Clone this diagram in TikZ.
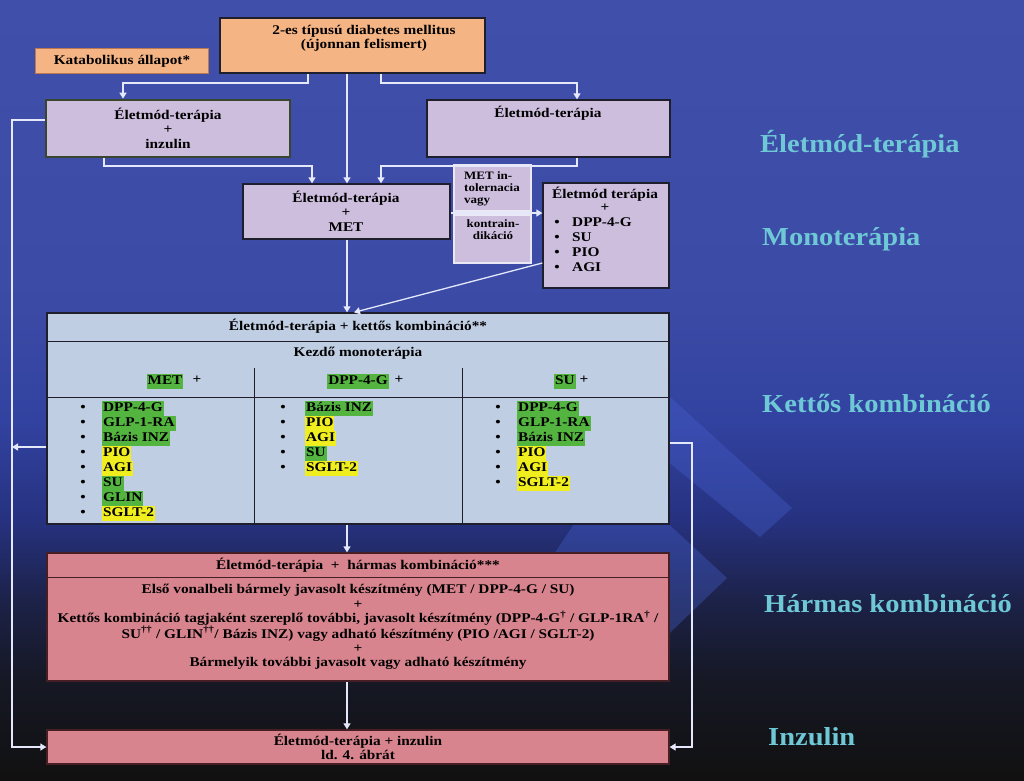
\documentclass[tikz,border=0pt]{standalone}
\usepackage{fontspec}
\setmainfont{Liberation Serif}[FakeStretch=1.15]
\newfontfamily\labelfont{Liberation Serif}[FakeStretch=1.1]
\usetikzlibrary{arrows.meta,calc}

\definecolor{bg0}{RGB}{17,17,17}
\definecolor{bg1}{RGB}{22,24,36}
\definecolor{bg2}{RGB}{28,34,72}
\definecolor{bg3}{RGB}{38,50,128}
\definecolor{bg4}{RGB}{50,66,160}
\definecolor{bg5}{RGB}{60,76,166}
\definecolor{bg6}{RGB}{64,80,170}
\definecolor{chevcol}{RGB}{72,98,210}
\definecolor{orangebox}{RGB}{245,180,132}
\definecolor{orangeedge}{RGB}{190,120,80}
\definecolor{lavbox}{RGB}{205,190,222}
\definecolor{tblbox}{RGB}{192,206,228}
\definecolor{pinkbox}{RGB}{216,132,142}
\definecolor{pinkedge}{RGB}{70,30,36}
\definecolor{hlgreen}{RGB}{84,180,64}
\definecolor{hlyellow}{RGB}{240,238,30}
\definecolor{labelcyan}{RGB}{110,200,214}
\definecolor{edgecol}{RGB}{30,30,45}
\definecolor{olivedark}{RGB}{55,70,45}
\definecolor{conncol}{RGB}{228,232,250}
\definecolor{intedge}{RGB}{235,232,245}

% positions in bp from the bottom, central 25..75bp mapped onto the picture
\pgfdeclareverticalshading{bgshade}{100bp}{color(0bp)=(bg0); color(25bp)=(bg0); color(31.4bp)=(bg1); color(36.5bp)=(bg2); color(41.7bp)=(bg3); color(48.1bp)=(bg4); color(57bp)=(bg5); color(75bp)=(bg6); color(100bp)=(bg6)}

\newcommand{\mkbox}[6]{\node[#6, minimum width={(#4-(#2))*1pt}, minimum height={(#5-(#3))*1pt}] (#1) at ({((#2)+(#4))/2},{((#3)+(#5))/2}) {};}
\newcommand{\bitem}[6]{\node[bul] (#1b) at (#2,#4) {•};\node[hl, fill=#5] (#1) at (#3,#4) {#6};}

\begin{document}
\begin{tikzpicture}[x=1pt,y=-1pt,
  box/.style={draw=edgecol, line width=1.3pt, inner sep=0pt},
  txt/.style={font=\fontsize{13.3}{14.4}\selectfont\bfseries, align=center, inner sep=0pt, text=black},
  small/.style={font=\fontsize{11.3}{12}\selectfont\bfseries, inner sep=0pt, text=black},
  hl/.style={font=\fontsize{13.3}{15}\selectfont\bfseries, inner xsep=1pt, inner ysep=0pt, text height=10.6pt, text depth=4.4pt, anchor=west, text=black},
  bul/.style={font=\fontsize{13.3}{15}\selectfont\bfseries, inner sep=0pt, text=black},
  conn/.style={draw=conncol, line width=1.3pt, -{Triangle[width=7pt,length=6pt]}},
  tline/.style={draw=edgecol, line width=1pt},
  sidelabel/.style={font=\labelfont\fontsize{25.9}{28}\selectfont\bfseries, text=labelcyan, inner sep=0pt, anchor=base west}
]
\useasboundingbox (0,0) rectangle (1024,780);
\shade[shading=bgshade] (0,0) rectangle (1024,780);
\fill[chevcol, opacity=0.35] (600,333) -- (792,508) -- (760,537) -- (600,406) -- cycle;
\fill[chevcol, opacity=0.35] (610,470) -- (727,578) -- (650,652) -- (540,652) -- (540,575) -- cycle;

% boxes
\mkbox{diab}{220}{18}{485}{73}{box, fill=orangebox}
\mkbox{kat}{35}{48}{208}{73}{box, fill=orangebox, draw=orangeedge, line width=1pt}
\mkbox{ins}{46}{100}{290}{157}{box, fill=lavbox, draw=olivedark, line width=2.6pt}
\mkbox{elet}{427}{100}{670}{157}{box, fill=lavbox}
\mkbox{met}{243}{184}{450}{239}{box, fill=lavbox}
\mkbox{intA}{454}{165}{531}{211}{fill=lavbox, draw=intedge, line width=1.2pt, inner sep=0pt}
\mkbox{intB}{454}{215}{531}{263}{fill=lavbox, draw=intedge, line width=1.2pt, inner sep=0pt}
\mkbox{mono}{543}{183}{669}{288}{box, fill=lavbox}
\mkbox{kett}{47}{313}{669}{524}{box, fill=tblbox}
\mkbox{harm}{47}{553}{669}{681}{box, fill=pinkbox, draw=pinkedge}
\mkbox{inz}{47}{730}{669}{764}{box, fill=pinkbox, draw=pinkedge}

% inner rules
\draw[tline] (kett.west |- 0,341) -- (kett.east |- 0,341);
\draw[tline] (kett.west |- 0,397) -- (kett.east |- 0,397);
\draw[tline] (254,368) -- (254,0 |- kett.south);
\draw[tline] (462,368) -- (462,0 |- kett.south);
\draw[tline, draw=pinkedge] (harm.west |- 0,577) -- (harm.east |- 0,577);

% texts
\node[txt] (diabT) at (364,38) {2-es típusú diabetes mellitus\\(újonnan felismert)};
\node[txt] (katT) at (122,61) {Katabolikus állapot*};
\node[txt] (insT) at (168,128) {Életmód-terápia\\+\\inzulin};
\node[txt] (eletT) at (548,113) {Életmód-terápia};
\node[txt] (metT) at (346,211) {Életmód-terápia\\+\\MET};
\node[small, align=left, anchor=west] (intAT) at (464,189) {MET in-\\tolernacia\\vagy};
\node[small, align=center] (intBT) at (493,230) {kontrain-\\dikáció};
\node[txt] (monoT1) at (605,194) {Életmód terápia};
\node[txt] (monoT2) at (605,208) {+};
\bitem{m1}{557}{571}{223}{none}{DPP-4-G}
\bitem{m2}{557}{571}{238}{none}{SU}
\bitem{m3}{557}{571}{253}{none}{PIO}
\bitem{m4}{557}{571}{268}{none}{AGI}

\node[txt] (kettH) at (358,326) {Életmód-terápia + kettős kombináció**};
\node[txt] (kezdo) at (358,353) {Kezdő monoterápia};
\node[hl, fill=hlgreen, anchor=center] (h1) at (165,381) {MET};
\node[txt] (h1p) at (197,380) {+};
\node[hl, fill=hlgreen, anchor=center] (h2) at (358,381) {DPP-4-G};
\node[txt] (h2p) at (399,380) {+};
\node[hl, fill=hlgreen, anchor=center] (h3) at (565,381) {SU};
\node[txt] (h3p) at (584,380) {+};

\bitem{a1}{83}{102}{408}{hlgreen}{DPP-4-G}
\bitem{a2}{83}{102}{423}{hlgreen}{GLP-1-RA}
\bitem{a3}{83}{102}{438}{hlgreen}{Bázis INZ}
\bitem{a4}{83}{102}{453}{hlyellow}{PIO}
\bitem{a5}{83}{102}{468}{hlyellow}{AGI}
\bitem{a6}{83}{102}{483}{hlgreen}{SU}
\bitem{a7}{83}{102}{498}{hlgreen}{GLIN}
\bitem{a8}{83}{102}{513}{hlyellow}{SGLT-2}

\bitem{b1}{283}{305}{408}{hlgreen}{Bázis INZ}
\bitem{b2}{283}{305}{423}{hlyellow}{PIO}
\bitem{b3}{283}{305}{438}{hlyellow}{AGI}
\bitem{b4}{283}{305}{453}{hlgreen}{SU}
\bitem{b5}{283}{305}{468}{hlyellow}{SGLT-2}

\bitem{c1}{498}{517}{408}{hlgreen}{DPP-4-G}
\bitem{c2}{498}{517}{423}{hlgreen}{GLP-1-RA}
\bitem{c3}{498}{517}{438}{hlgreen}{Bázis INZ}
\bitem{c4}{498}{517}{453}{hlyellow}{PIO}
\bitem{c5}{498}{517}{468}{hlyellow}{AGI}
\bitem{c6}{498}{517}{483}{hlyellow}{SGLT-2}

\node[txt] (harmH) at (358,565) {Életmód-terápia \ + \ hármas kombináció***};
\node[txt] (harmB) at (358,627) {Első vonalbeli bármely javasolt készítmény (MET / DPP-4-G / SU)\\+\\Kettős kombináció tagjaként szereplő további, javasolt készítmény (DPP-4-G\textsuperscript{†} / GLP-1RA\textsuperscript{†} /\\SU\textsuperscript{††} / GLIN\textsuperscript{††}/ Bázis INZ) vagy adható készítmény (PIO /AGI / SGLT-2)\\+\\Bármelyik további javasolt vagy adható készítmény};
\node[txt] (inzT) at (358,747) {Életmód-terápia + inzulin\\ld. 4. ábrát};

\node[sidelabel] (L1) at (760,152) {Életmód-terápia};
\node[sidelabel] (L2) at (762,245) {Monoterápia};
\node[sidelabel] (L3) at (762,412) {Kettős kombináció};
\node[sidelabel] (L4) at (764,612) {Hármas kombináció};
\node[sidelabel] (L5) at (768,745) {Inzulin};

% connectors
\draw[conn] (308,0 |- diab.south) |- (123,83) -- (123,0 |- ins.north);
\draw[conn] (347,0 |- diab.south) -- (347,0 |- met.north);
\draw[conn] (381,0 |- diab.south) |- (577,83) -- (577,0 |- elet.north);
\draw[conn] (104,0 |- ins.south) |- (312,166) -- (312,0 |- met.north);
\draw[conn] (577,0 |- elet.south) |- (381,166) -- (381,0 |- met.north);
\draw[conn] (met.east |- 0,213) -- (mono.west |- 0,213);
\draw[conn] (mono.west |- 0,263) -- (354,0 |- kett.north);
\draw[conn] (347,0 |- met.south) -- (347,0 |- kett.north);
\draw[conn] (ins.west |- 0,120) -- (12,120) -- (12,747) -- (inz.west |- 0,747);
\draw[conn] (kett.west |- 0,447) -- (12,447);
\draw[conn] (kett.east |- 0,443) -- (692,443) -- (692,747) -- (inz.east |- 0,747);
\draw[conn] (347,0 |- kett.south) -- (347,0 |- harm.north);
\draw[conn] (347,0 |- harm.south) -- (347,0 |- inz.north);
\end{tikzpicture}
\end{document}
